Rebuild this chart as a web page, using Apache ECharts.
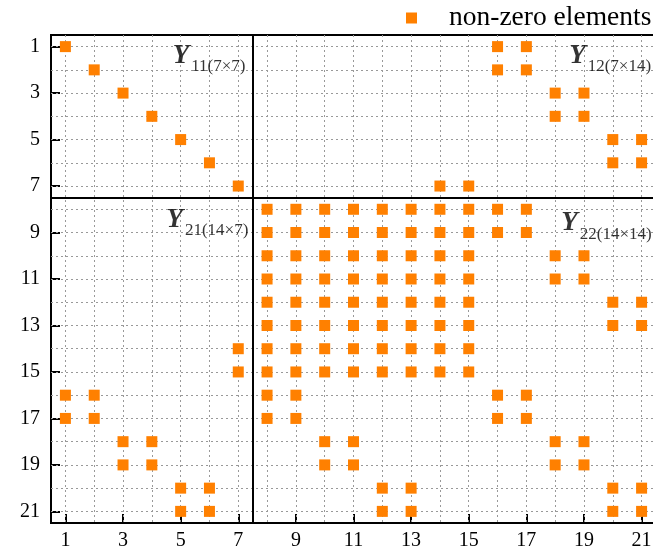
<!DOCTYPE html>
<html>
<head>
<meta charset="utf-8">
<script src="https://cdn.jsdelivr.net/npm/echarts@6/dist/echarts.min.js"></script>
<style>
  html, body { margin: 0; padding: 0; background: #fff; }
  #chart { width: 653px; height: 555px; }
</style>
</head>
<body>
<div id="chart"></div>
<script>
// Sparsity pattern of the 21x21 block matrix Y: for every row, the columns holding non-zero entries.
const rows = [1, 2, 3, 4, 5, 6, 7, 8, 9, 10, 11, 12, 13, 14, 15, 16, 17, 18, 19, 20, 21];
const nonZeroCols = [
  [1, 16, 17],
  [2, 16, 17],
  [3, 18, 19],
  [4, 18, 19],
  [5, 20, 21],
  [6, 20, 21],
  [7, 14, 15],
  [8, 9, 10, 11, 12, 13, 14, 15, 16, 17],
  [8, 9, 10, 11, 12, 13, 14, 15, 16, 17],
  [8, 9, 10, 11, 12, 13, 14, 15, 18, 19],
  [8, 9, 10, 11, 12, 13, 14, 15, 18, 19],
  [8, 9, 10, 11, 12, 13, 14, 15, 20, 21],
  [8, 9, 10, 11, 12, 13, 14, 15, 20, 21],
  [7, 8, 9, 10, 11, 12, 13, 14, 15],
  [7, 8, 9, 10, 11, 12, 13, 14, 15],
  [1, 2, 8, 9, 16, 17],
  [1, 2, 8, 9, 16, 17],
  [3, 4, 10, 11, 18, 19],
  [3, 4, 10, 11, 18, 19],
  [5, 6, 12, 13, 20, 21],
  [5, 6, 12, 13, 20, 21]
];

// Axis ticks / labels and dotted grid positions
const tickValues = [1, 3, 5, 7, 9, 11, 13, 15, 17, 19, 21];
const gridValues = [1, 2, 3, 4, 5, 6, 7, 8, 9, 10, 11, 12, 13, 14, 15, 16, 17, 18, 19, 20, 21];

// Block partition (Y11 | Y12 / Y21 | Y22)
const blockBoundary = [7.5];
const blockIndices = ['11', '12', '21', '22'];
const blockSizes = ['7×7', '7×14', '14×7', '14×14'];

const legendName = 'non-zero elements';

// ---------------------------------------------------------------------------
const FONT = "'Liberation Serif', 'Times New Roman', serif";
const ORANGE = '#ff8000';

const points = [];
rows.forEach((r, i) => nonZeroCols[i].forEach(c => points.push([c, r])));

// caption anchors in data units: right edge, vertical centre of each block caption
const captionAnchors = [[7.25, 1.4], [21.33, 1.4], [7.35, 8.45], [21.35, 8.6]];

const captionData = captionAnchors.map((p, i) => ({
  value: p,
  label: { formatter: '{y|Y}{s|' + blockIndices[i] + '(' + blockSizes[i] + ')}' }
}));

const axisCommon = {
  type: 'value',
  min: 0.5,
  max: 21.5,
  axisLine: { show: true, onZero: false, lineStyle: { color: '#000', width: 2 } },
  axisTick: { show: true, inside: true, length: 9, customValues: tickValues,
              lineStyle: { color: '#000', width: 2 } },
  axisLabel: { customValues: tickValues, fontFamily: FONT, fontSize: 20, color: '#000' },
  splitLine: { show: false }
};

const chart = echarts.init(document.getElementById('chart'), null, { renderer: 'canvas' });

chart.setOption({
  animation: false,
  backgroundColor: '#fff',
  grid: {
    left: 51, top: 35, width: 605, height: 488,
    show: true, borderColor: '#000', borderWidth: 2, backgroundColor: 'transparent',
    containLabel: false, outerBoundsMode: 'none'
  },
  legend: {
    data: [legendName],
    left: 401, top: -1,
    icon: 'rect', itemWidth: 11, itemHeight: 11,
    itemStyle: { opacity: 1 },
    textStyle: { fontFamily: FONT, fontSize: 27.5, color: '#000', padding: [0, 0, 0, 27] }
  },
  xAxis: Object.assign({}, axisCommon, {
    position: 'bottom',
    axisLabel: Object.assign({}, axisCommon.axisLabel, { margin: 8 })
  }),
  yAxis: Object.assign({}, axisCommon, {
    inverse: true,
    position: 'left',
    axisLabel: Object.assign({}, axisCommon.axisLabel, { margin: 11 })
  }),
  series: [
    {
      // dotted grid at every integer row / column
      type: 'scatter',
      data: [],
      silent: true,
      markLine: {
        silent: true, symbol: 'none', z: 1, animation: false,
        label: { show: false },
        lineStyle: { color: '#999', type: [2, 3], width: 1 },
        emphasis: { disabled: true },
        data: gridValues.map(v => ({ xAxis: v })).concat(gridValues.map(v => ({ yAxis: v })))
      }
    },
    {
      name: legendName,
      type: 'scatter',
      symbol: 'rect',
      symbolSize: 11,
      z: 3,
      itemStyle: { color: ORANGE, opacity: 1 },
      data: points
    },
    {
      // block boundaries
      type: 'scatter',
      data: [],
      silent: true,
      markLine: {
        silent: true, symbol: 'none', z: 4, animation: false,
        label: { show: false },
        lineStyle: { color: '#000', type: 'solid', width: 2 },
        emphasis: { disabled: true },
        data: blockBoundary.map(v => ({ xAxis: v })).concat(blockBoundary.map(v => ({ yAxis: v })))
      }
    },
    {
      // block captions Y_ij(m×n)
      type: 'scatter',
      symbolSize: 0,
      silent: true,
      z: 5,
      data: captionData,
      label: {
        show: true,
        position: [0, 0],
        align: 'right',
        verticalAlign: 'middle',
        color: '#000',
        rich: {
          y: { fontFamily: FONT, fontSize: 27, fontWeight: 'bold', fontStyle: 'italic', color: '#000' },
          s: { fontFamily: FONT, fontSize: 17, color: '#000', padding: [22, 0, 0, 2] }
        }
      }
    }
  ]
});
</script>
</body>
</html>
